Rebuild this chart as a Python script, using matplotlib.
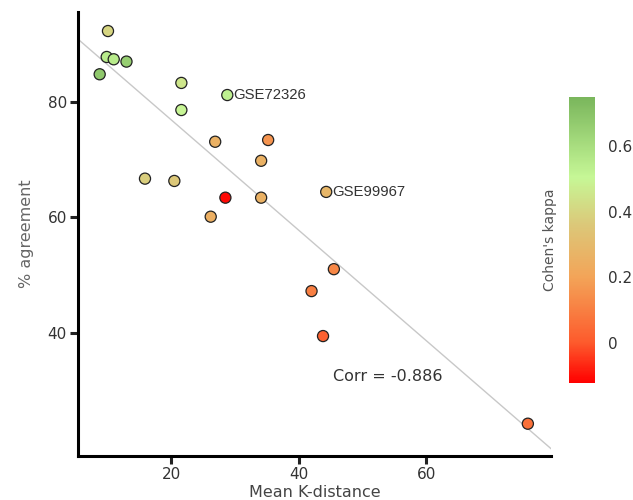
import numpy as np
import matplotlib.pyplot as plt
from matplotlib.colors import LinearSegmentedColormap, Normalize

# Data
k_distance = [10.1, 9.9, 11.0, 13.0, 8.8, 21.6, 28.8, 21.6, 26.9, 35.2, 34.1,
              15.9, 20.5, 28.5, 34.1, 44.3, 26.2, 45.5, 42.0, 43.8, 75.9]
agreement = [92.3, 87.8, 87.4, 87.0, 84.8, 83.3, 81.2, 78.6, 73.1, 73.4, 69.8,
             66.7, 66.3, 63.4, 63.4, 64.4, 60.1, 51.0, 47.2, 39.4, 24.2]
kappa = [0.40, 0.55, 0.55, 0.66, 0.68, 0.45, 0.53, 0.50, 0.26, 0.16, 0.26,
         0.38, 0.36, -0.11, 0.26, 0.28, 0.25, 0.12, 0.10, 0.02, 0.06]
labels = {6: "GSE72326", 15: "GSE99967"}
corr_text = "Corr = -0.886"

cmap = LinearSegmentedColormap.from_list("kappa", [
    (0.00, "#ff0000"), (0.14, "#fd5a2c"), (0.37, "#f3a458"),
    (0.55, "#dcc778"), (0.72, "#c6f796"), (1.00, "#7ab65c")])
norm = Normalize(vmin=-0.122, vmax=0.749)

fig = plt.figure(figsize=(6.33, 5.0), dpi=100)
ax = fig.add_axes([0.1232, 0.088, 0.747, 0.888])

ax.set_xlim(5.4, 79.5)
ax.set_ylim(18.6, 95.6)

# regression line across the full x range
slope, intercept = np.polyfit(k_distance, agreement, 1)
xs = np.array(ax.get_xlim())
ax.plot(xs, slope * xs + intercept, color="#c8c8c8", lw=1, zorder=1)

ax.scatter(k_distance, agreement, c=kappa, cmap=cmap, norm=norm, s=64,
           edgecolors="#222222", linewidths=0.9, zorder=3)

for i, name in labels.items():
    ax.annotate(name, (k_distance[i], agreement[i]), xytext=(4.5, 0),
                textcoords="offset points", va="center", ha="left",
                fontsize=10.7, family="Liberation Sans", color="#333333")

ax.text(0.539, 0.18, corr_text, transform=ax.transAxes, fontsize=11.5,
        color="#333333", va="center")

for side in ["top", "right"]:
    ax.spines[side].set_visible(False)
for side in ["left", "bottom"]:
    ax.spines[side].set_linewidth(2.2)
ax.set_xticks([20, 40, 60])
ax.set_yticks([40, 60, 80])
ax.tick_params(width=2.2, length=6, labelsize=11, colors="#222222",
               labelcolor="#333333", pad=2)
ax.set_xlabel("Mean K-distance", fontsize=11.5, color="#444444", labelpad=2)
ax.set_ylabel("% agreement", fontsize=11.5, color="#666666", labelpad=10)

cax = fig.add_axes([0.899, 0.234, 0.041, 0.572])
sm = plt.cm.ScalarMappable(norm=norm, cmap=cmap)
cb = fig.colorbar(sm, cax=cax)
cb.outline.set_visible(False)
cb.set_ticks([0, 0.2, 0.4, 0.6])
cb.set_ticklabels(["0", "0.2", "0.4", "0.6"])
cax.tick_params(length=0, labelsize=11, labelcolor="#333333", pad=9)
cax.yaxis.set_ticks_position("right")
cb.set_label("Cohen's kappa", fontsize=10, color="#555555")
cax.yaxis.set_label_position("left")
cax.yaxis.labelpad = 9

fig.savefig("out.png", dpi=100)
plt.close(fig)
